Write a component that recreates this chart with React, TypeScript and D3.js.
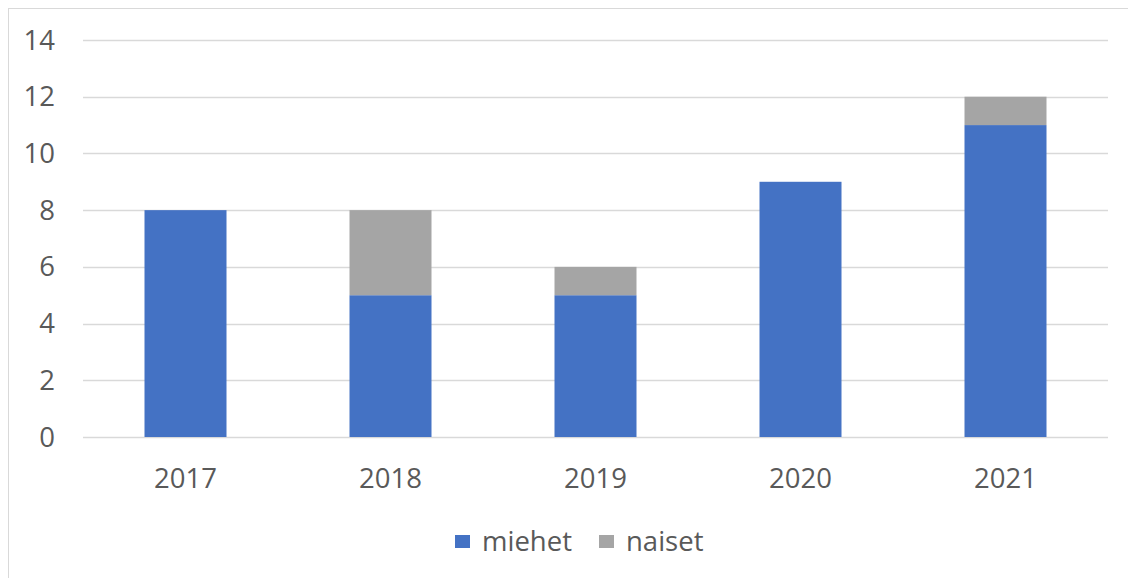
import React from "react";
import * as d3 from "d3";

const years = ["2017", "2018", "2019", "2020", "2021"];
const miehet = [8, 5, 5, 9, 11];
const naiset = [0, 3, 1, 0, 1];
const yTicks = [0, 2, 4, 6, 8, 10, 12, 14];
const seriesNames = ["miehet", "naiset"];
const seriesColors = ["#4472C4", "#A5A5A5"];

export default function App() {
  const W = 1128;
  const H = 570;
  const left = 75, right = 1100, top = 32, bottom = 429;
  const x = d3.scaleBand<string>().domain(years).range([left, right]).paddingInner(0.6).paddingOuter(0.3);
  const y = d3.scaleLinear().domain([0, 14]).range([bottom, top]);
  const font = "'Open Sans', sans-serif";
  const textColor = "#595959";
  const fs = 27.5;
  const stackData = years.map((yr, i) => ({ year: yr, miehet: miehet[i], naiset: naiset[i] }));
  const stacked = d3.stack<any>().keys(seriesNames)(stackData);

  return (
    <svg width={W} height={H} style={{ display: "block", overflow: "hidden" }}>
      <rect x={0.5} y={0.5} width={1300} height={800} fill="#fff" stroke="#d9d9d9" strokeWidth={1} />
      {yTicks.map((t) => (
        <g key={t}>
          <line x1={left} x2={right} y1={Math.round(y(t)) + 0.5} y2={Math.round(y(t)) + 0.5} stroke="#d9d9d9" strokeWidth={1.5} />
          <text x={47} y={y(t)} dy="0.35em" textAnchor="end" fontFamily={font} fontSize={fs} fill={textColor}>
            {t}
          </text>
        </g>
      ))}
      {stacked.map((s, si) => (
        <g key={s.key} fill={seriesColors[si]}>
          {s.map((d, i) =>
            d[1] - d[0] > 0 ? (
              <rect key={i} x={x(years[i])} width={x.bandwidth()} y={y(d[1])} height={y(d[0]) - y(d[1])} />
            ) : null
          )}
        </g>
      ))}
      {years.map((yr) => (
        <text key={yr} x={(x(yr) as number) + x.bandwidth() / 2} y={470} dy="0.35em" textAnchor="middle" fontFamily={font} fontSize={fs} fill={textColor}>
          {yr}
        </text>
      ))}
      <g>
        <rect x={447} y={527} width={15} height={13} fill={seriesColors[0]} />
        <text x={474} y={533} dy="0.35em" fontFamily={font} fontSize={fs} fill={textColor}>{seriesNames[0]}</text>
        <rect x={591} y={527} width={15} height={13} fill={seriesColors[1]} />
        <text x={618} y={533} dy="0.35em" fontFamily={font} fontSize={fs} fill={textColor}>{seriesNames[1]}</text>
      </g>
    </svg>
  );
}
